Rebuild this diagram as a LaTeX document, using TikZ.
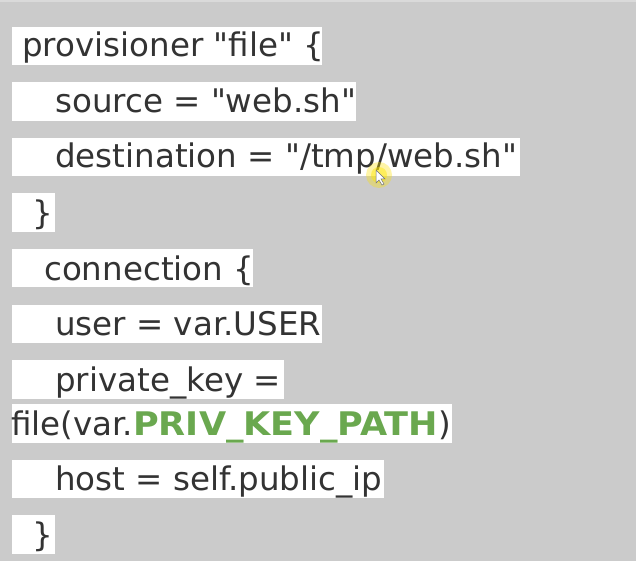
\documentclass[tikz,border=0pt]{standalone}
\usepackage{fontspec}
\newfontfamily\codefont{DejaVu Sans}
\newfontfamily\greenfont{DejaVu Sans Bold}[FakeStretch=1.08]
\definecolor{bg}{HTML}{CBCBCB}
\definecolor{topbar}{HTML}{DADADA}
\definecolor{ink}{HTML}{333333}
\definecolor{keygreen}{HTML}{6AA84F}
\tikzset{
  codeline/.style={anchor=base west, inner sep=0pt, text=ink, font=\codefont\fontsize{32.5}{32.5}\selectfont},
  hlbox/.style={fill=white, draw=none}
}
\newcommand{\greenkey}[1]{\textcolor{keygreen}{\greenfont #1}}
\begin{document}
\begin{tikzpicture}[x=1pt,y=-1pt]
\useasboundingbox (0,0) rectangle (636,561);
\fill[bg] (0,0) rectangle (636,561);
\fill[topbar] (0,0) rectangle (636,2);
% highlight boxes
\fill[hlbox] (12,27) rectangle (322,65);
\fill[hlbox] (12,82) rectangle (356,121);
\fill[hlbox] (12,138) rectangle (520,176);
\fill[hlbox] (12,193) rectangle (55,232);
\fill[hlbox] (12,249) rectangle (253,287);
\fill[hlbox] (12,305) rectangle (322,343);
\fill[hlbox] (12,360) rectangle (284,399);
\fill[hlbox] (12,404) rectangle (452,443);
\fill[hlbox] (12,460) rectangle (384,498);
\fill[hlbox] (12,515) rectangle (55,554);
% text lines
\node[codeline] (l1) at (22,57) {provisioner "file" \{};
\node[codeline] (l2) at (55,113) {source = "web.sh"};
\node[codeline] (l3) at (55,168) {destination = "/tmp/web.sh"};
\node[codeline] (l4) at (32,224) {\}};
\node[codeline] (l5) at (44,280) {connection \{};
\node[codeline] (l6) at (55,335) {user = var.USER};
\node[codeline] (l7) at (55,391) {private\_key =};
\node[codeline] (l8) at (11,435) {file(var.\greenkey{PRIV\_KEY\_PATH})};
\node[codeline] (l9) at (55,490) {host = self.public\_ip};
\node[codeline] (l10) at (32,546) {\}};
% mouse cursor highlight
\fill[yellow!85!orange, opacity=0.35] (379,175) circle (13);
\fill[yellow!90!orange, opacity=0.45] (379,175) circle (8);
\draw[ink!70, fill=white, line width=0.5pt] (376,170) -- (376,183) -- (379,180) -- (382,185) -- (384,184) -- (381,179) -- (385,179) -- cycle;
\end{tikzpicture}
\end{document}
